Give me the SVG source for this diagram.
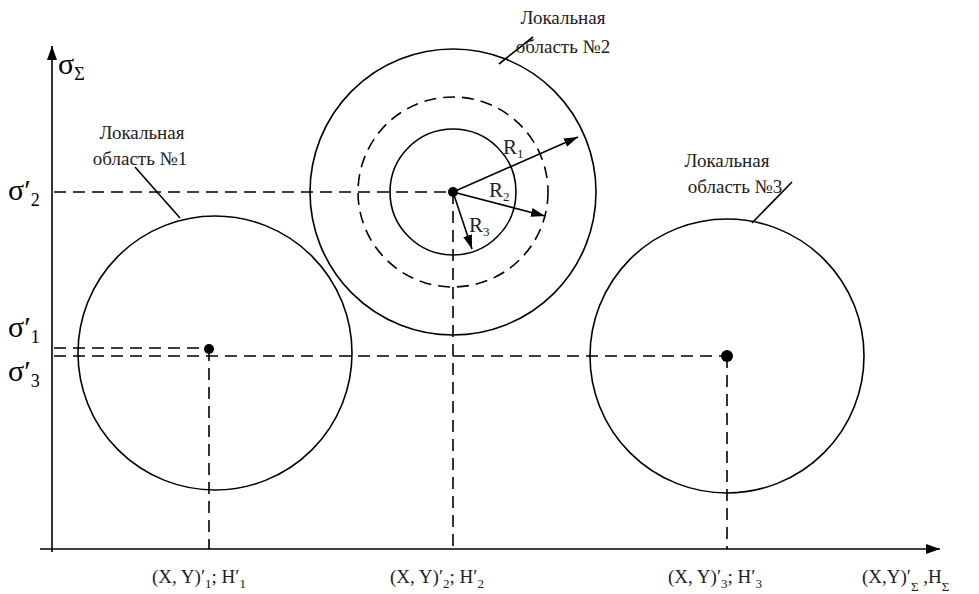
<svg xmlns="http://www.w3.org/2000/svg" width="979" height="594" viewBox="0 0 979 594">
<style>
.ln{stroke:#000;stroke-width:1.6;fill:none}
.ds{stroke:#000;stroke-width:1.6;fill:none;stroke-dasharray:12,7}
.tx{font-family:"Liberation Serif","Times New Roman",serif;font-size:19px;fill:#222}
.rt{font-family:"Liberation Serif","Times New Roman",serif;font-size:21px;fill:#222}
.sg{font-family:"Liberation Serif","Times New Roman",serif;font-size:30px;fill:#000}
.sb{font-size:18px}
.ss{font-size:13px}
</style>
<defs>
<marker id="ar" viewBox="0 0 14 10" refX="14" refY="5" markerWidth="14" markerHeight="10" markerUnits="userSpaceOnUse" orient="auto">
<path d="M0,0.5 L14,5 L0,9.5 Z" fill="#000"/>
</marker>
<marker id="ax" viewBox="0 0 14 10" refX="14" refY="5" markerWidth="14" markerHeight="10" markerUnits="userSpaceOnUse" orient="auto">
<path d="M0,0 L14,5 L0,10 Z" fill="#000"/>
</marker>
</defs>
<rect width="979" height="594" fill="#fff"/>
<g id="axes">
<line class="ln" x1="52" y1="552" x2="52" y2="46" marker-end="url(#ax)"/>
<line class="ln" x1="40" y1="549" x2="940" y2="549" marker-end="url(#ax)"/>
</g>
<g id="connectors">
<line class="ds" x1="54" y1="192" x2="453" y2="192"/>
<line class="ds" x1="54" y1="348" x2="209" y2="348"/>
<line class="ds" x1="54" y1="356" x2="727" y2="356"/>
<line class="ds" x1="209" y1="349" x2="209" y2="549"/>
<line class="ds" x1="453" y1="192" x2="453" y2="549"/>
<line class="ds" x1="727" y1="356" x2="727" y2="549"/>
<line class="ln" x1="135" y1="167" x2="180" y2="218"/>
<line class="ln" x1="533" y1="37" x2="499" y2="64"/>
<line class="ln" x1="792" y1="182" x2="752" y2="223"/>
<line class="ln" x1="453" y1="192" x2="578" y2="137" marker-end="url(#ar)"/>
<line class="ln" x1="453" y1="192" x2="545" y2="216" marker-end="url(#ar)"/>
<line class="ln" x1="453" y1="192" x2="472" y2="249" marker-end="url(#ar)"/>
</g>
<g id="region1">
<circle class="ln" cx="215" cy="353" r="137"/>
<circle cx="209" cy="349" r="5" fill="#000"/>
<text class="tx" x="142" y="139" text-anchor="middle">Локальная</text>
<text class="tx" x="140" y="165" text-anchor="middle">область №1</text>
</g>
<g id="region2">
<circle class="ln" cx="453" cy="192" r="143"/>
<circle class="ds" cx="453" cy="192" r="95"/>
<circle class="ln" cx="453" cy="192" r="63"/>
<circle cx="453" cy="192" r="5" fill="#000"/>
<text class="tx" x="563" y="24" text-anchor="middle">Локальная</text>
<text class="tx" x="563" y="53" text-anchor="middle">область №2</text>
<text class="rt" x="503" y="154">R<tspan class="ss" dy="4">1</tspan></text>
<text class="rt" x="489" y="197">R<tspan class="ss" dy="4">2</tspan></text>
<text class="rt" x="469" y="232">R<tspan class="ss" dy="4">3</tspan></text>
</g>
<g id="region3">
<circle class="ln" cx="727" cy="356" r="137"/>
<circle cx="727" cy="356" r="6" fill="#000"/>
<text class="tx" x="727" y="167" text-anchor="middle">Локальная</text>
<text class="tx" x="735" y="193" text-anchor="middle">область №3</text>
</g>
<g id="labels">
<text class="sg" x="58" y="74">σ<tspan class="sb" dy="6">Σ</tspan></text>
<text class="sg" x="8" y="200">σ′<tspan class="sb" dy="6">2</tspan></text>
<text class="sg" x="8" y="337">σ′<tspan class="sb" dy="6">1</tspan></text>
<text class="sg" x="8" y="381">σ′<tspan class="sb" dy="6">3</tspan></text>
<text class="tx" x="152" y="583">(X, Y)′<tspan class="ss" dy="5">1</tspan><tspan dy="-5">; H′</tspan><tspan class="ss" dy="5">1</tspan></text>
<text class="tx" x="390" y="583">(X, Y)′<tspan class="ss" dy="5">2</tspan><tspan dy="-5">; H′</tspan><tspan class="ss" dy="5">2</tspan></text>
<text class="tx" x="668" y="583">(X, Y)′<tspan class="ss" dy="5">3</tspan><tspan dy="-5">; H′</tspan><tspan class="ss" dy="5">3</tspan></text>
<text class="tx" x="862" y="583">(X,Y)′<tspan class="ss" dy="8">Σ</tspan><tspan dy="-8"> ,H</tspan><tspan class="ss" dy="8">Σ</tspan></text>
</g>
</svg>
